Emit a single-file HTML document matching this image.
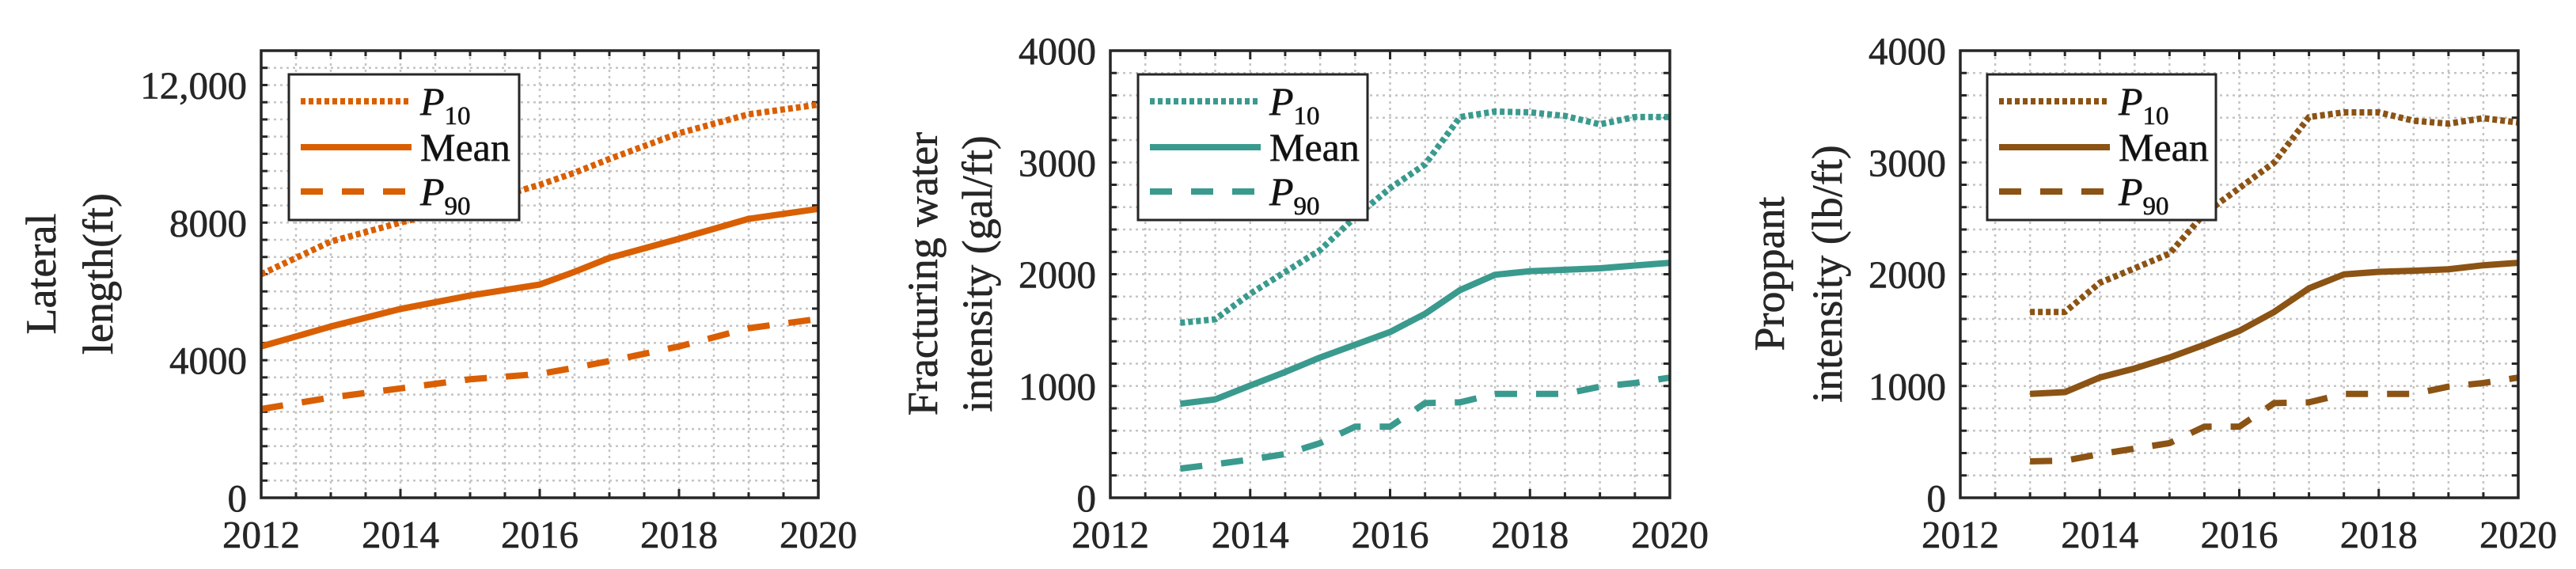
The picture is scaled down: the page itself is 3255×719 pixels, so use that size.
<!DOCTYPE html>
<html><head><meta charset="utf-8">
<style>
html,body{margin:0;padding:0;background:#fff;}
svg{display:block;font-family:"Liberation Serif",serif;}
text{stroke:#262626;stroke-width:0.6px;}
</style></head>
<body>
<svg id="fig" width="3255" height="719" viewBox="0 0 3255 719" xmlns="http://www.w3.org/2000/svg"></svg>
<script>
// ---- data ----
const years1 = [2012,2013,2014,2015,2016,2016.5,2017,2018,2019,2020];
const lenP10 = [6500,7450,8000,8500,9100,9450,9850,10600,11150,11430];
const lenMean = [4400,4980,5490,5880,6200,6570,6975,7530,8110,8400];
const lenP90 = [2580,2915,3180,3445,3600,3780,3975,4400,4930,5200];

const years2 = [2013,2013.5,2014,2014.5,2015,2015.5,2016,2016.5,2017,2017.5,2018,2018.5,2019,2019.5,2020];
const waterP10 = [1565,1597,1825,2020,2216,2510,2770,2982,3406,3455,3448,3416,3341,3406,3406];
const waterMean = [841,880,1004,1125,1255,1369,1483,1646,1858,1995,2027,2040,2053,2078,2102];
const waterP90 = [261,300,342,391,489,636,636,847,854,929,929,929,994,1027,1075];

const propP10 = [1662,1662,1923,2053,2184,2542,2770,2999,3406,3448,3448,3373,3347,3396,3357];
const propMean = [929,945,1076,1157,1255,1369,1493,1662,1874,1998,2021,2031,2044,2080,2102];
const propP90 = [326,332,391,440,489,636,636,847,854,929,929,929,994,1027,1075];

const xTicks = [2012,2014,2016,2018,2020];
const yTicks1 = [0,4000,8000,12000];
const yTickLabels1 = ["0","4000","8000","12,000"];
const yTicks2 = [0,1000,2000,3000,4000];
const yTickLabels2 = ["0","1000","2000","3000","4000"];

const NS="http://www.w3.org/2000/svg";
const svg=document.getElementById('fig');
function mk(tag,attrs,parent){const e=document.createElementNS(NS,tag);for(const k in attrs)e.setAttribute(k,attrs[k]);(parent||svg).appendChild(e);return e;}

function panel(cfg){
  const g=mk('g',{});
  
  
  const L=cfg.left,R=cfg.right,T=64,B=629;
  const sx=v=>L+(v-2012)/(2020-2012)*(R-L);
  const sy=v=>B-v/cfg.ymax*(B-T);
  for(let x=2012.5;x<2020;x+=0.5){
    const l=mk('line',{x1:sx(x),x2:sx(x),y1:T,y2:B,stroke:'#c4c4c4','stroke-width':2.5,'stroke-dasharray':'3 5'},g);
    
    
  }
  for(let y=cfg.gstep;y<cfg.ymax;y+=cfg.gstep){
    const l=mk('line',{x1:L,x2:R,y1:sy(y),y2:sy(y),stroke:'#c4c4c4','stroke-width':2.5,'stroke-dasharray':'3 5'},g);
    
    
  }
  for(let x=2012.5;x<2020;x+=0.5){
    const len=(Math.abs(x-Math.round(x/2)*2)<1e-6)?11:7;
    mk('line',{x1:sx(x),x2:sx(x),y1:B,y2:B-len,stroke:'#262626','stroke-width':3},g);
    mk('line',{x1:sx(x),x2:sx(x),y1:T,y2:T+len,stroke:'#262626','stroke-width':3},g);
  }
  for(let y=cfg.gstep;y<cfg.ymax;y+=cfg.gstep){
    mk('line',{x1:L,x2:L+8,y1:sy(y),y2:sy(y),stroke:'#262626','stroke-width':3},g);
    mk('line',{x1:R,x2:R-8,y1:sy(y),y2:sy(y),stroke:'#262626','stroke-width':3},g);
  }
  const pts=(xs,ys)=>xs.map((x,i)=>sx(x)+','+sy(ys[i])).join(' ');
  const series=[[cfg.p10,'6 4','p10-line'],[cfg.mean,'none','mean-line'],[cfg.p90,'28 24','p90-line']];
  series.forEach(s=>{
    const p=mk('polyline',{points:pts(cfg.xs,s[0]),fill:'none',stroke:cfg.color,'stroke-width':8,'stroke-dasharray':s[1],'stroke-linejoin':'round'},g);
    
    
  });
  const fr=mk('rect',{x:L,y:T,width:R-L,height:B-T,fill:'none',stroke:'#262626','stroke-width':3.5},g);
  
  
  xTicks.forEach(x=>{
    const t=mk('text',{x:sx(x),y:692,'text-anchor':'middle','font-size':49,fill:'#262626'},g);
    t.textContent=x;
    
    
  });
  cfg.yt.forEach((y,i)=>{
    const t=mk('text',{x:L-18,y:sy(y)+17,'text-anchor':'end','font-size':49,fill:'#262626'},g);
    t.textContent=cfg.ytl[i];
    
    
  });
  cfg.ylabel.forEach((s,i)=>{
    const cx=cfg.ylx[i],cy=346;
    const t=mk('text',{x:cx,y:cy,'text-anchor':'middle','font-size':54,fill:'#262626','dominant-baseline':'central',transform:`rotate(-90 ${cx} ${cy})`},g);
    t.textContent=s;
    
    
  });
  const lg=mk('g',{},g);
  
  
  const lx=cfg.legx;
  mk('rect',{x:lx,y:94,width:cfg.legw,height:184,fill:'#fff',stroke:'#262626','stroke-width':3},lg);
  const rows=[['6 4',128,'P','10'],['none',186,'Mean',''],['28 24',242,'P','90']];
  rows.forEach(r=>{
    const e=mk('line',{x1:lx+15,x2:lx+155,y1:r[1],y2:r[1],stroke:cfg.color,'stroke-width':8,'stroke-dasharray':r[0]},lg);
    
    
    const t=mk('text',{x:lx+166,y:r[1]+17,'font-size':50,fill:'#111'},lg);
    
    
    if(r[3]){
      const a=mk('tspan',{'font-style':'italic'},t);a.textContent=r[2];
      const b=mk('tspan',{'font-size':33,dy:12},t);b.textContent=r[3];
    } else t.textContent=r[2];
  });
}

panel({name:'lateral-length-panel',left:330,right:1034,ymax:13000,gstep:500,xs:years1,p10:lenP10,mean:lenMean,p90:lenP90,color:'#D95F02',yt:yTicks1,ytl:yTickLabels1,ylabel:['Lateral','length(ft)'],ylx:[52,124],legx:365,legw:291});
panel({name:'water-intensity-panel',left:1403,right:2110,ymax:4000,gstep:200,xs:years2,p10:waterP10,mean:waterMean,p90:waterP90,color:'#3A9A8E',yt:yTicks2,ytl:yTickLabels2,ylabel:['Fracturing water','intensity (gal/ft)'],ylx:[1166,1235],legx:1438,legw:290});
panel({name:'proppant-intensity-panel',left:2477,right:3182,ymax:4000,gstep:200,xs:years2,p10:propP10,mean:propMean,p90:propP90,color:'#8B5314',yt:yTicks2,ytl:yTickLabels2,ylabel:['Proppant','intensity (lb/ft)'],ylx:[2236,2309],legx:2511,legw:289});
</script>
</body></html>
